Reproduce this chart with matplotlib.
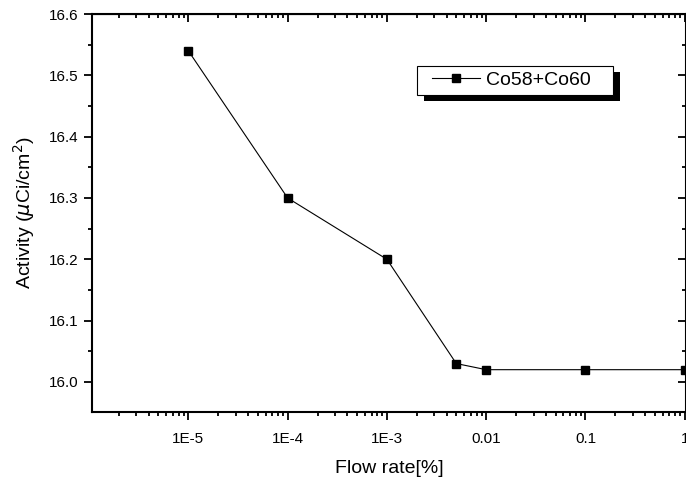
# Activity vs flow rate, Co58+Co60
import matplotlib
matplotlib.use("Agg")
import matplotlib.pyplot as plt
from matplotlib.ticker import FixedLocator, MultipleLocator, LogLocator, FormatStrFormatter
from matplotlib.patches import Rectangle

flow = [1e-5, 1e-4, 1e-3, 5e-3, 1e-2, 1e-1, 1.0]
activity = [16.54, 16.30, 16.20, 16.03, 16.02, 16.02, 16.02]
xticks = [1e-5, 1e-4, 1e-3, 1e-2, 1e-1, 1.0]
xlabels = ["1E-5", "1E-4", "1E-3", "0.01", "0.1", "1"]

plt.rcParams['font.family'] = ['Liberation Sans', 'DejaVu Sans']

fig = plt.figure(figsize=(6.86, 4.83), dpi=100)
ax = fig.add_axes([92 / 686, 0.147, 594 / 686, 0.824])

ax.plot(flow, activity, '-s', color='k', lw=0.8, ms=5.5, clip_on=False,
        label='Co58+Co60', zorder=3)
ax.set_xscale('log')
ax.set_xlim(1.07e-6, 1.03)
ax.set_ylim(15.951, 16.6)

minor_loc = LogLocator(base=10, subs=range(2, 10), numticks=20)
ax.xaxis.set_major_locator(FixedLocator(xticks))
ax.set_xticklabels(xlabels)
ax.xaxis.set_minor_locator(minor_loc)
ax.xaxis.set_minor_formatter(matplotlib.ticker.NullFormatter())
ax.yaxis.set_major_locator(MultipleLocator(0.1))
ax.yaxis.set_minor_locator(MultipleLocator(0.05))
ax.yaxis.set_major_formatter(FormatStrFormatter('%.1f'))

ax.tick_params(which='both', direction='out', top=False, right=False,
               labelsize=11, width=1.3)
ax.tick_params(which='major', length=5.5)
ax.tick_params(which='minor', length=3.2)
ax.tick_params(axis='x', which='major', pad=9)
ax.tick_params(axis='y', which='major', pad=4)
for s in ax.spines.values():
    s.set_linewidth(1.5)

# inward ticks on top/right
ax2 = ax.secondary_xaxis('top')
ax2.set_xticks(xticks)
ax2.xaxis.set_minor_locator(LogLocator(base=10, subs=range(2, 10), numticks=20))
ax2.tick_params(which='both', direction='in', labeltop=False, width=1.3)
ax2.tick_params(which='major', length=5.5)
ax2.tick_params(which='minor', length=3.2)
ax2.set_xticklabels([])
ax3 = ax.secondary_yaxis('right')
ax3.yaxis.set_major_locator(MultipleLocator(0.1))
ax3.yaxis.set_minor_locator(MultipleLocator(0.05))
ax3.tick_params(which='both', direction='in', labelright=False, width=1.3)
ax3.tick_params(which='major', length=5.5)
ax3.tick_params(which='minor', length=3.2)

ax.set_xlabel('Flow rate[%]', fontsize=14, labelpad=10)
ax.set_ylabel(r'Activity ($\mu$Ci/cm$^2$)', fontsize=14, labelpad=9)

# legend box with solid shadow
bx, by, bw, bh = 0.5471, 0.7965, 0.33, 0.0729
ax.add_patch(Rectangle((bx + 0.0118, by - 0.0151), bw, bh, transform=ax.transAxes,
                       facecolor='k', edgecolor='none', zorder=5))
ax.add_patch(Rectangle((bx, by), bw, bh, transform=ax.transAxes,
                       facecolor='white', edgecolor='k', lw=0.8, zorder=6))
leg = ax.legend(loc='center left', bbox_to_anchor=(0.5724, 0.833), fontsize=14,
                frameon=False, handlelength=2.47, handletextpad=0.3,
                borderpad=0, borderaxespad=0)
leg.set_zorder(7)

fig.savefig('out.png', dpi=100)
